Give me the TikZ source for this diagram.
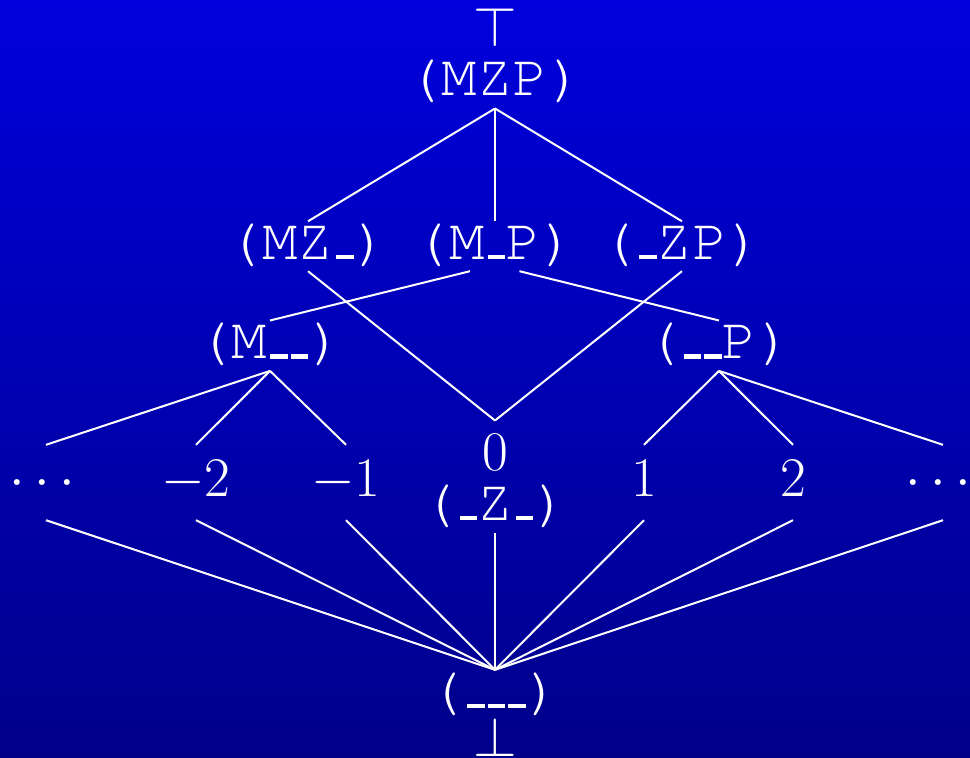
\RequirePackage{fix-cm}
\documentclass[tikz,border=0pt]{standalone}
\usepackage[T1,TU]{fontenc}
\usetikzlibrary{calc}
\definecolor{bgtop}{RGB}{0,0,220}
\definecolor{bgbot}{RGB}{0,0,138}
\newcommand\cour{\fontencoding{T1}\fontfamily{pcr}\fontseries{m}\fontshape{n}\fontsize{59}{62}\selectfont}
\newcommand\numsz{\fontsize{56}{60}\selectfont}
\newcommand\us{\kern3pt\rule{17.5pt}{4.3pt}}
\begin{document}
\begin{tikzpicture}[x=1pt,y=-1pt,
  tt/.style={text=white,inner sep=0pt,font=\cour,anchor=base},
  nm/.style={text=white,inner sep=0pt,font=\numsz,anchor=base},
  rowtwo/.style={text height=37.8pt,text depth=11.7pt},
  rowthree/.style={text height=37.8pt,text depth=12.2pt},
  numrow/.style={text height=51.7pt,text depth=23.3pt},
  edge/.style={draw=white,line width=2pt}]
\shade[top color=bgtop,bottom color=bgbot] (0,0) rectangle (970,758);
\useasboundingbox (0,0) rectangle (970,758);

\node[nm] (tp) at (495,46.7) {$\top$};
\node[tt,text depth=13.3pt] (mzp) at (495,95) {(MZP)};
\node[tt,rowtwo] (mz) at (308,259.3) {(MZ\us)};
\node[tt,rowtwo] (mp) at (495,259.3) {(M\us P)};
\node[tt,rowtwo] (zp) at (682,259.3) {(\us ZP)};
\node[tt,rowthree] (m) at (270,358.5) {(M\us\us)};
\node[tt,rowthree] (p) at (719,358.5) {(\us\us P)};

\node[nm,numrow] (dl) at (42,496.7) {$\cdots$};
\node[nm,numrow] (n2) at (196,496.7) {$-2$};
\node[nm,numrow] (n1) at (346,496.7) {$-1$};
\node[nm,numrow] (p1) at (644,496.7) {$1$};
\node[nm,numrow] (p2) at (793,496.7) {$2$};
\node[nm,numrow] (dr) at (938,496.7) {$\cdots$};
\node[nm,text height=50pt] (zero) at (495,470.7) {$0$};
\node[tt,text depth=12.7pt] (z) at (495,520) {(\us Z\us)};
\node[tt,text height=38pt] (bt) at (495,708) {(\us\us\us)};
\node[nm] (bs) at (495,756) {$\bot$};

\draw[edge] (mzp.south) -- (mz.north);
\draw[edge] (mzp.south) -- (mp.north);
\draw[edge] (mzp.south) -- (zp.north);
\draw[edge] (mz.south) -- (zero.north);
\draw[edge] (zp.south) -- (zero.north);
\draw[edge] ($(mp.south)+(-25,0)$) -- (m.north);
\draw[edge] ($(mp.south)+(24.5,0)$) -- (p.north);

\draw[edge] (m.south) -- ($(dl.north)+(4,0)$);
\draw[edge] (m.south) -- (n2.north);
\draw[edge] (m.south) -- (n1.north);
\draw[edge] (p.south) -- (p1.north);
\draw[edge] (p.south) -- (p2.north);
\draw[edge] (p.south) -- ($(dr.north)+(5,0)$);

\draw[edge] ($(dl.south)+(4,0)$) -- (bt.north);
\draw[edge] (n2.south) -- (bt.north);
\draw[edge] (n1.south) -- (bt.north);
\draw[edge] (z.south) -- (bt.north);
\draw[edge] (p1.south) -- (bt.north);
\draw[edge] (p2.south) -- (bt.north);
\draw[edge] ($(dr.south)+(5,0)$) -- (bt.north);
\end{tikzpicture}
\end{document}
